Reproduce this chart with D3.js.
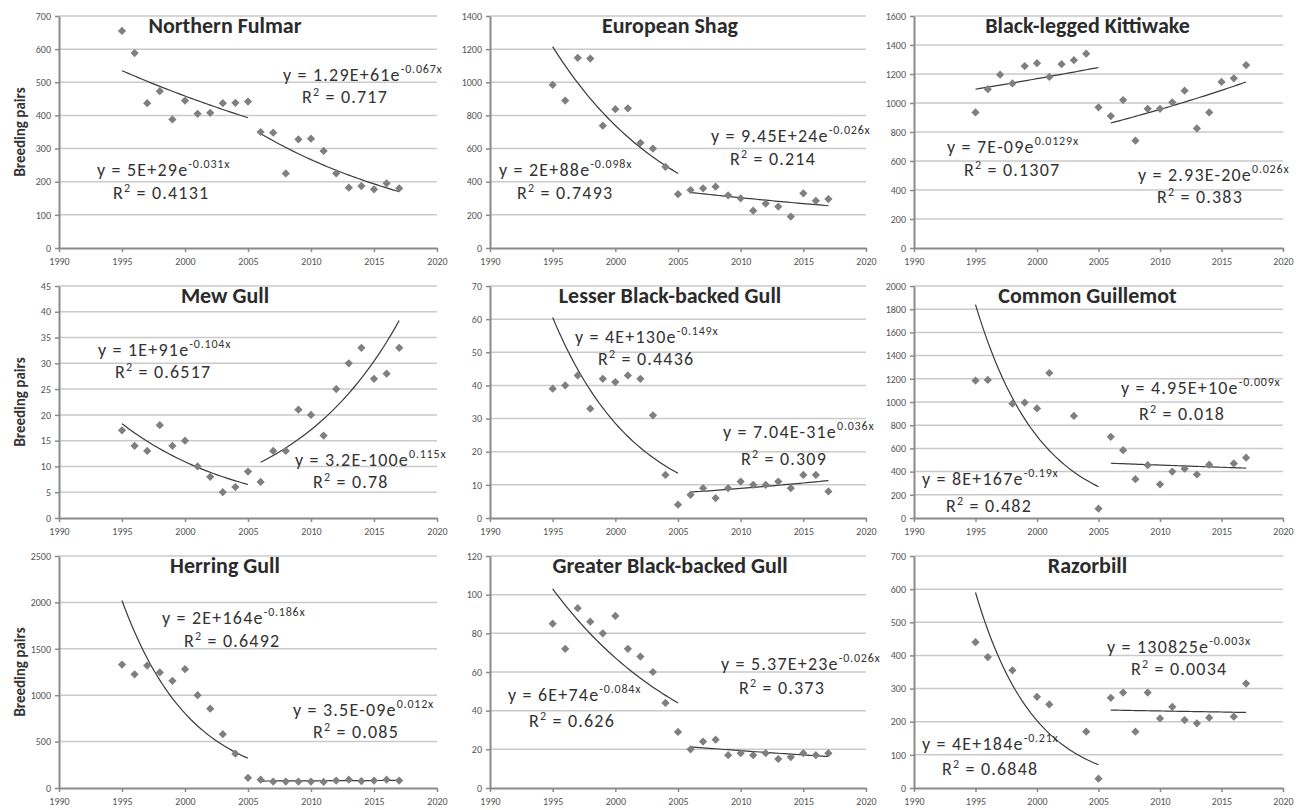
<!DOCTYPE html>
<html>
<head>
<meta charset="utf-8">
<script src="https://cdn.jsdelivr.net/npm/d3@7"></script>
<style>
  body { margin: 0; background: #fff; }
  svg { display: block; font-family: Carlito, Lato, "Open Sans", sans-serif; }
</style>
</head>
<body>
<div id="chart"></div>
<script>
// ---- data ----
const years = [1995, 1996, 1997, 1998, 1999, 2000, 2001, 2002, 2003, 2004, 2005, 2006,
               2007, 2008, 2009, 2010, 2011, 2012, 2013, 2014, 2015, 2016, 2017];
const xTickLabels = [1990, 1995, 2000, 2005, 2010, 2015, 2020];

const fulmar = [655, 588, 437, 473, 388, 445, 405, 408, 437, 438, 442, 350, 348, 225, 328, 330, 293, 225, 182, 187, 177, 195, 180];
const shag = [985, 890, 1148, 1143, 738, 838, 843, 635, 600, 490, 325, 350, 360, 370, 318, 300, 225, 268, 250, 190, 330, 285, 295];
const kittiwake = [935, 1095, 1195, 1135, 1255, 1275, 1180, 1268, 1295, 1340, 970, 910, 1020, 740, 960, 960, 1005, 1085, 825, 935, 1145, 1170, 1262];
const mewGull = [17, 14, 13, 18, 14, 15, 10, 8, 5, 6, 9, 7, 13, 13, 21, 20, 16, 25, 30, 33, 27, 28, 33];
const lesserGull = [39, 40, 43, 33, 42, 41, 43, 42, 31, 13, 4, 7, 9, 6, 9, 11, 10, 10, 11, 9, 13, 13, 8];
const guillemot = [1185, 1190, null, 985, 995, 945, 1250, null, 880, null, 80, 700, 585, 335, 455, 290, 400, 425, 375, 460, null, 470, 520];
const herringGull = [1330, 1225, 1320, 1245, 1155, 1280, 1000, 855, 580, 370, 110, 90, 70, 70, 70, 70, 65, 80, 90, 75, 80, 90, 80];
const greaterGull = [85, 72, 93, 86, 80, 89, 72, 68, 60, 44, 29, 20, 24, 25, 17, 18, 17, 18, 15, 16, 18, 17, 18];
const razorbill = [440, 395, null, 355, null, 275, 252, null, null, 170, 28, 272, 288, 170, 288, 210, 245, 205, 195, 212, null, 215, 315];

const fulmarTicks = [0, 100, 200, 300, 400, 500, 600, 700];
const shagTicks = [0, 200, 400, 600, 800, 1000, 1200, 1400];
const kittiwakeTicks = [0, 200, 400, 600, 800, 1000, 1200, 1400, 1600];
const mewTicks = [0, 5, 10, 15, 20, 25, 30, 35, 40, 45];
const lesserTicks = [0, 10, 20, 30, 40, 50, 60, 70];
const guillemotTicks = [0, 200, 400, 600, 800, 1000, 1200, 1400, 1600, 1800, 2000];
const herringTicks = [0, 500, 1000, 1500, 2000, 2500];
const greaterTicks = [0, 20, 40, 60, 80, 100, 120];
const razorbillTicks = [0, 100, 200, 300, 400, 500, 600, 700];

// exponential trend lines: value at start and end of each period
const trendSpans = [[1995, 2005], [2006, 2017]];
const fulmarTrend = [[535, 393], [345, 170]];
const shagTrend = [[1215, 450], [335, 255]];
const kittiwakeTrend = [[1095, 1245], [862, 1145]];
const mewTrend = [[18.3, 6.5], [10.8, 38.3]];
const lesserTrend = [[60.5, 13.5], [7.8, 11.3]];
const guillemotTrend = [[1840, 270], [472, 430]];
const herringTrend = [[2020, 320], [75, 82]];
const greaterTrend = [[103, 44], [21.3, 16.3]];
const razorbillTrend = [[590, 70], [235, 228]];

// trend equations: [coefficient, exponent, R²]
const fulmarEq = [["5E+29", "-0.031x", "0.4131"], ["1.29E+61", "-0.067x", "0.717"]];
const shagEq = [["2E+88", "-0.098x", "0.7493"], ["9.45E+24", "-0.026x", "0.214"]];
const kittiwakeEq = [["7E-09", "0.0129x", "0.1307"], ["2.93E-20", "0.026x", "0.383"]];
const mewEq = [["1E+91", "-0.104x", "0.6517"], ["3.2E-100", "0.115x", "0.78"]];
const lesserEq = [["4E+130", "-0.149x", "0.4436"], ["7.04E-31", "0.036x", "0.309"]];
const guillemotEq = [["8E+167", "-0.19x", "0.482"], ["4.95E+10", "-0.009x", "0.018"]];
const herringEq = [["2E+164", "-0.186x", "0.6492"], ["3.5E-09", "0.012x", "0.085"]];
const greaterEq = [["6E+74", "-0.084x", "0.626"], ["5.37E+23", "-0.026x", "0.373"]];
const razorbillEq = [["4E+184", "-0.21x", "0.6848"], ["130825", "-0.003x", "0.0034"]];

const panels = [
    { name: "Northern Fulmar", values: fulmar, ticks: fulmarTicks, trend: fulmarTrend, eq: fulmarEq },
    { name: "European Shag", values: shag, ticks: shagTicks, trend: shagTrend, eq: shagEq },
    { name: "Black-legged Kittiwake", values: kittiwake, ticks: kittiwakeTicks, trend: kittiwakeTrend, eq: kittiwakeEq },
    { name: "Mew Gull", values: mewGull, ticks: mewTicks, trend: mewTrend, eq: mewEq },
    { name: "Lesser Black-backed Gull", values: lesserGull, ticks: lesserTicks, trend: lesserTrend, eq: lesserEq },
    { name: "Common Guillemot", values: guillemot, ticks: guillemotTicks, trend: guillemotTrend, eq: guillemotEq },
    { name: "Herring Gull", values: herringGull, ticks: herringTicks, trend: herringTrend, eq: herringEq },
    { name: "Greater Black-backed Gull", values: greaterGull, ticks: greaterTicks, trend: greaterTrend, eq: greaterEq },
    { name: "Razorbill", values: razorbill, ticks: razorbillTicks, trend: razorbillTrend, eq: razorbillEq }
];

// ---- layout ----
const W = 1309, H = 810;
const colLeft = [59, 490, 914];
const colRight = [437, 866, 1283];
const rowTop = [16, 286, 556];
const rowBottom = [248, 518, 788];
const titleShift = [-23, -8, -11];
// label offsets from plot top-left: [x eq, y eq, x R², y R²]
const eqPos = [
    [[38, 160, 54, 183], [224, 65, 243, 87]],
    [[9, 160, 27, 183], [221, 126, 240, 149]],
    [[33, 137, 50, 160], [224, 165, 243, 187]],
    [[39, 70, 56, 92], [236, 180, 254, 202]],
    [[85, 57, 108, 79], [233, 152, 251, 179]],
    [[8, 199, 32, 226], [207, 108, 225, 134]],
    [[103, 68, 125, 91], [234, 160, 254, 182]],
    [[18, 145, 39, 171], [231, 114, 249, 138]],
    [[8, 194, 28, 219], [193, 97, 217, 119]]
];

const svg = d3.select("#chart").append("svg").attr("width", W).attr("height", H);

panels.forEach((p, i) => {
    const col = i % 3, row = Math.floor(i / 3);
    const left = colLeft[col], right = colRight[col];
    const top = rowTop[row], bottom = rowBottom[row];

    const x = d3.scaleLinear().domain([1990, 2020]).range([left, right]);
    const y = d3.scaleLinear().domain([0, d3.max(p.ticks)]).range([bottom, top]);
    const g = svg.append("g");

    // gridlines
    g.selectAll(".grid").data(p.ticks.slice(1)).enter().append("line")
        .attr("x1", left).attr("x2", right)
        .attr("y1", d => y(d)).attr("y2", d => y(d))
        .attr("stroke", "#cacaca").attr("stroke-width", 1.5);

    // axes
    const yAxis = d3.axisLeft(y).tickValues(p.ticks).tickFormat(d3.format("d"))
        .tickSize(4).tickSizeOuter(0).tickPadding(4);
    const xAxis = d3.axisBottom(x).tickValues(xTickLabels).tickFormat(d3.format("d"))
        .tickSize(4).tickSizeOuter(0).tickPadding(6);
    const ya = g.append("g").attr("transform", "translate(" + left + ",0)").call(yAxis);
    const xa = g.append("g").attr("transform", "translate(0," + bottom + ")").call(xAxis);
    [ya, xa].forEach(a => {
        a.select(".domain").attr("stroke", "#8a8a8a").attr("stroke-width", 2);
        a.selectAll(".tick line").attr("stroke", "#8a8a8a").attr("stroke-width", 1.5);
        a.selectAll("text").attr("fill", "#555").style("font-size", "10px")
            .style("font-family", "Carlito, Lato, sans-serif");
    });

    // trend lines (exponential between the fitted end values)
    const line = d3.line().x(d => x(d[0])).y(d => y(d[1]));
    p.trend.forEach((t, k) => {
        const x0 = trendSpans[k][0], x1 = trendSpans[k][1];
        const pts = d3.range(x0, x1 + 0.001, 0.25).map(yr =>
            [yr, t[0] * Math.pow(t[1] / t[0], (yr - x0) / (x1 - x0))]);
        g.append("path").datum(pts).attr("d", line)
            .attr("fill", "none").attr("stroke", "#3a3a3a").attr("stroke-width", 1.2);
    });

    // diamond markers
    const pts = years.map((yr, k) => [yr, p.values[k]]).filter(d => d[1] != null);
    g.selectAll(".pt").data(pts).enter().append("path")
        .attr("d", d3.symbol(d3.symbolSquare, 34)())
        .attr("transform", d => "translate(" + x(d[0]) + "," + y(d[1]) + ") rotate(45)")
        .attr("fill", "#7f7f7f");

    // title
    g.append("text")
        .attr("x", (left + right) / 2 + titleShift[col]).attr("y", top + 17)
        .attr("text-anchor", "middle")
        .style("font-size", "22px").style("font-weight", "bold").attr("fill", "#2b2b2b")
        .text(p.name);

    // equation + R² as one two-line label
    p.eq.forEach((e, k) => {
        const pos = eqPos[i][k];
        const t = g.append("text").attr("x", left + pos[0]).attr("y", top + pos[1])
            .attr("fill", "#333").style("font-size", "18px").style("letter-spacing", "1.2px");
        t.append("tspan").text("y = " + e[0] + "e");
        t.append("tspan").attr("dy", -8).style("font-size", "12px").style("letter-spacing", "0.8px").text(e[1]);
        t.append("tspan").attr("x", left + pos[2]).attr("dy", pos[3] - pos[1] + 8).text("R");
        t.append("tspan").attr("dy", -7).style("font-size", "12px").text("2");
        t.append("tspan").attr("dy", 7).text(" = " + e[2]);
    });

    // y axis title on left column
    if (col === 0) {
        g.append("text")
            .attr("transform", "translate(25," + (top + bottom) / 2 + ") rotate(-90)")
            .attr("text-anchor", "middle")
            .style("font-size", "15px").style("font-weight", "bold").attr("fill", "#333")
            .text("Breeding pairs");
    }
});
</script>
</body>
</html>
